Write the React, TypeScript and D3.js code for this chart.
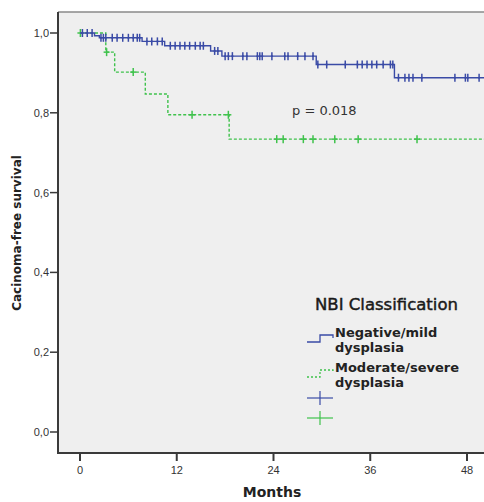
import React, { useEffect, useRef } from 'react';
import * as d3 from 'd3';

// Kaplan-Meier steps (months, survival)
const blueTimes = [0, 1.8, 2.4, 7.7, 10.5, 16.2, 17.6, 29.3, 39.0];
const blueSurv = [1.0, 0.993, 0.988, 0.979, 0.968, 0.955, 0.942, 0.921, 0.888];
const blueCensored = [
  0.3, 0.9, 1.5, 2.6, 2.9, 3.2, 4.0, 4.6, 5.3, 6.0, 6.6, 7.1, 7.4, 8.3, 8.9, 9.6, 10.2,
  11.2, 11.8, 12.4, 13.0, 13.6, 14.3, 14.9, 15.3, 16.7, 17.1, 18.0, 18.4, 18.9, 20.2,
  20.7, 22.0, 22.3, 22.6, 23.8, 25.4, 25.8, 27.0, 27.9, 28.9, 29.5, 30.6, 32.9, 34.4,
  35.0, 35.6, 36.2, 36.8, 37.6, 38.5, 38.8, 39.5, 40.3, 40.8, 41.3, 42.4, 46.5, 47.8,
  48.1, 49.5,
];

const greenTimes = [0, 3.2, 4.3, 8.1, 10.9, 18.5];
const greenSurv = [1.0, 0.952, 0.902, 0.847, 0.795, 0.734];
const greenCensored = [0.05, 3.3, 6.6, 13.9, 18.4, 24.4, 25.2, 27.7, 28.9, 31.6, 34.5, 41.8];

const lastTime = 51;
const xTicks = [0, 12, 24, 36, 48];
const yTicks = [0, 0.2, 0.4, 0.6, 0.8, 1.0];
const legendTitle = 'NBI Classification';
const legendLabels = [['Negative/mild', 'dysplasia'], ['Moderate/severe', 'dysplasia']];

const BLUE = '#3a4ba6';
const GREEN = '#3fc24c';

const App: React.FC = () => {
  const svgRef = useRef<SVGSVGElement>(null);

  useEffect(() => {
    if (!svgRef.current) return;
    const svg = d3.select(svgRef.current);
    svg.selectAll('*').remove();

    const font = 'Arial, "Liberation Sans", sans-serif';
    const wide = '"DejaVu Sans", Verdana, sans-serif';
    const left = 58, top = 12, bottom = 453;

    const x = d3.scaleLinear().domain([0, 48]).range([80, 467]);
    const y = d3.scaleLinear().domain([0, 1]).range([432, 33]);

    // plot background
    svg.append('rect')
      .attr('x', left).attr('y', top)
      .attr('width', 520 - left).attr('height', bottom - top)
      .attr('fill', '#efefef');

    // frame
    svg.append('line').attr('x1', left).attr('x2', 520).attr('y1', top).attr('y2', top)
      .attr('stroke', '#8a8a8a').attr('stroke-width', 1.5);
    svg.append('path')
      .attr('d', `M${left},${top}V${bottom}H520`)
      .attr('fill', 'none').attr('stroke', '#3a3a3a').attr('stroke-width', 2);

    // y axis ticks
    const fmt = (v: number) => v.toFixed(1).replace('.', ',');
    yTicks.forEach(t => {
      svg.append('line').attr('x1', left - 8).attr('x2', left)
        .attr('y1', y(t)).attr('y2', y(t))
        .attr('stroke', '#3a3a3a').attr('stroke-width', 1.5);
      svg.append('text').attr('x', left - 9).attr('y', y(t) + 4)
        .attr('text-anchor', 'end').attr('font-family', font).attr('font-size', 11)
        .attr('fill', '#333').text(fmt(t));
    });

    // x axis ticks
    xTicks.forEach(t => {
      svg.append('line').attr('x1', x(t)).attr('x2', x(t))
        .attr('y1', bottom).attr('y2', bottom + 8)
        .attr('stroke', '#3a3a3a').attr('stroke-width', 2);
      svg.append('text').attr('x', x(t)).attr('y', bottom + 21)
        .attr('text-anchor', 'middle').attr('font-family', font).attr('font-size', 11)
        .attr('fill', '#333').text(String(t));
    });

    svg.append('text').attr('x', 272).attr('y', 497)
      .attr('text-anchor', 'middle').attr('font-family', wide).attr('font-size', 14)
      .attr('font-weight', 'bold').attr('fill', '#222').text('Months');

    svg.append('text')
      .attr('transform', 'translate(21,233) rotate(-90)')
      .attr('text-anchor', 'middle').attr('font-family', wide).attr('font-size', 12)
      .attr('font-weight', 'bold').attr('fill', '#222').text('Cacinoma-free survival');

    const stepLine = d3.line<[number, number]>()
      .x(d => x(d[0])).y(d => y(d[1]))
      .curve(d3.curveStepAfter);

    const survAt = (times: number[], surv: number[], t: number) => {
      let s = surv[0];
      times.forEach((tt, i) => { if (tt <= t) s = surv[i]; });
      return s;
    };

    const drawSeries = (times: number[], surv: number[], censored: number[], color: string, dash: string | null, plusW: number) => {
      const pts: [number, number][] = times.map((t, i) => [t, surv[i]]);
      pts.push([lastTime, surv[surv.length - 1]]);
      const p = svg.append('path').datum(pts)
        .attr('fill', 'none').attr('stroke', color).attr('stroke-width', 1.4)
        .attr('d', stepLine);
      if (dash) p.attr('stroke-dasharray', dash);

      const g = svg.append('g').attr('stroke', color).attr('stroke-width', 1.5);
      censored.forEach(t => {
        const cx = x(t), cy = y(survAt(times, surv, t));
        g.append('line').attr('x1', cx).attr('x2', cx).attr('y1', cy - 4).attr('y2', cy + 4);
        g.append('line').attr('x1', cx - plusW).attr('x2', cx + plusW).attr('y1', cy).attr('y2', cy);
      });
    };

    drawSeries(greenTimes, greenSurv, greenCensored, GREEN, '3,2', 3);
    drawSeries(blueTimes, blueSurv, blueCensored, BLUE, null, 1);

    // p-value
    svg.append('text').attr('x', 292).attr('y', 115)
      .attr('font-family', wide).attr('font-size', 13).attr('fill', '#333')
      .text('p = 0.018');

    // legend
    svg.append('text').attr('x', 315).attr('y', 310)
      .attr('font-family', wide).attr('font-size', 16.5).attr('fill', '#1a1a1a')
      .attr('stroke', '#1a1a1a').attr('stroke-width', 0.45)
      .text(legendTitle);

    const colors = [BLUE, GREEN];
    legendLabels.forEach((lines, i) => {
      const base = 337 + i * 35;
      const icon = svg.append('path')
        .attr('d', `M307,${base + 5}H320V${base - 2}H333V${base + 1}`)
        .attr('fill', 'none').attr('stroke', colors[i]).attr('stroke-width', 1.3);
      if (i === 1) icon.attr('stroke-dasharray', '2,2');
      lines.forEach((ln, j) => {
        svg.append('text').attr('x', 335).attr('y', base + j * 15)
          .attr('font-family', wide).attr('font-size', 13).attr('font-weight', 'bold')
          .attr('fill', '#222').text(ln);
      });
      const py = 398 + i * 20;
      svg.append('line').attr('x1', 307).attr('x2', 333).attr('y1', py).attr('y2', py)
        .attr('stroke', colors[i]).attr('stroke-width', 1.2);
      svg.append('line').attr('x1', 320).attr('x2', 320).attr('y1', py - 7).attr('y2', py + 7)
        .attr('stroke', colors[i]).attr('stroke-width', 1.2);
    });
  }, []);

  return (
    <svg
      ref={svgRef}
      width={484}
      height={502}
      style={{ position: 'absolute', left: 0, top: 0, background: '#fff' }}
    />
  );
};

export default App;
